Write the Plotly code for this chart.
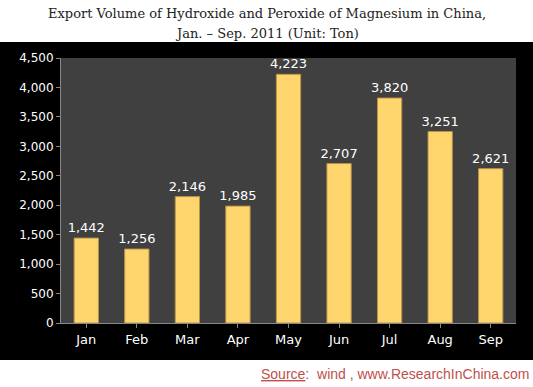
import plotly.graph_objects as go

months = ["Jan", "Feb", "Mar", "Apr", "May", "Jun", "Jul", "Aug", "Sep"]
volumes = [1442, 1256, 2146, 1985, 4223, 2707, 3820, 3251, 2621]
y_ticks = [0, 500, 1000, 1500, 2000, 2500, 3000, 3500, 4000, 4500]
y_tick_labels = ["0", "500", "1,000", "1,500", "2,000", "2,500", "3,000", "3,500", "4,000", "4,500"]
title_lines = ["Export Volume of Hydroxide and Peroxide of Magnesium in China,",
               "Jan. – Sep. 2011 (Unit: Ton)"]

W, H = 533, 387
L, R, T, B = 61, 17, 58, 64
pw, ph = W - L - R, H - T - B

def px_x(x):
    return (x - L) / pw

def px_y(y):
    return (H - B - y) / ph

fig = go.Figure()
fig.add_trace(go.Bar(
    x=months, y=volumes, width=0.48,
    marker=dict(color="#FFD66E", line=dict(color="#B8944A", width=1)),
    text=[f"{v:,}" for v in volumes], textposition="outside",
    constraintext="none",
    textfont=dict(color="white", size=13, family="DejaVu Sans"),
    cliponaxis=False, hoverinfo="skip",
))

fig.add_shape(type="rect", xref="paper", yref="paper",
              x0=px_x(0), x1=px_x(W), y0=px_y(360), y1=px_y(42),
              fillcolor="black", line_width=0, layer="below")
fig.add_shape(type="rect", xref="paper", yref="paper",
              x0=0, x1=1, y0=0, y1=1,
              fillcolor="#404040", line_width=0, layer="below")

fig.update_layout(
    width=W, height=H,
    margin=dict(l=L, r=R, t=T, b=B),
    paper_bgcolor="white", plot_bgcolor="#404040",
    showlegend=False,
    bargap=0.52,
    font=dict(family="DejaVu Sans", color="white"),
)
for line, ypx in zip(title_lines, [13, 33]):
    fig.add_annotation(xref="paper", yref="paper", x=px_x(W / 2), y=px_y(ypx),
                       xanchor="center", yanchor="middle", showarrow=False,
                       text=line,
                       font=dict(family="DejaVu Serif", size=13, color="#222"))

fig.update_yaxes(range=[0, 4500], tickvals=y_ticks, ticktext=y_tick_labels,
                 showgrid=False, zeroline=False, ticks="outside", ticklen=4,
                 tickcolor="#888", showline=True, linecolor="#888",
                 tickfont=dict(color="white", size=12, family="DejaVu Sans"))
fig.update_xaxes(showgrid=False, ticks="outside", ticklen=4, tickcolor="#888",
                 showline=True, linecolor="#888",
                 tickfont=dict(color="white", size=13, family="DejaVu Sans"))

fig.add_annotation(xref="paper", yref="paper", x=px_x(531), y=px_y(374),
                   xanchor="right", yanchor="middle", showarrow=False,
                   text="<u>Source</u>:  wind , www.ResearchInChina.com",
                   font=dict(family="Liberation Sans", size=14, color="#C0504D"))

fig.write_html("out.html", config={"displayModeBar": False},
               post_script="document.body.style.margin='0';")
